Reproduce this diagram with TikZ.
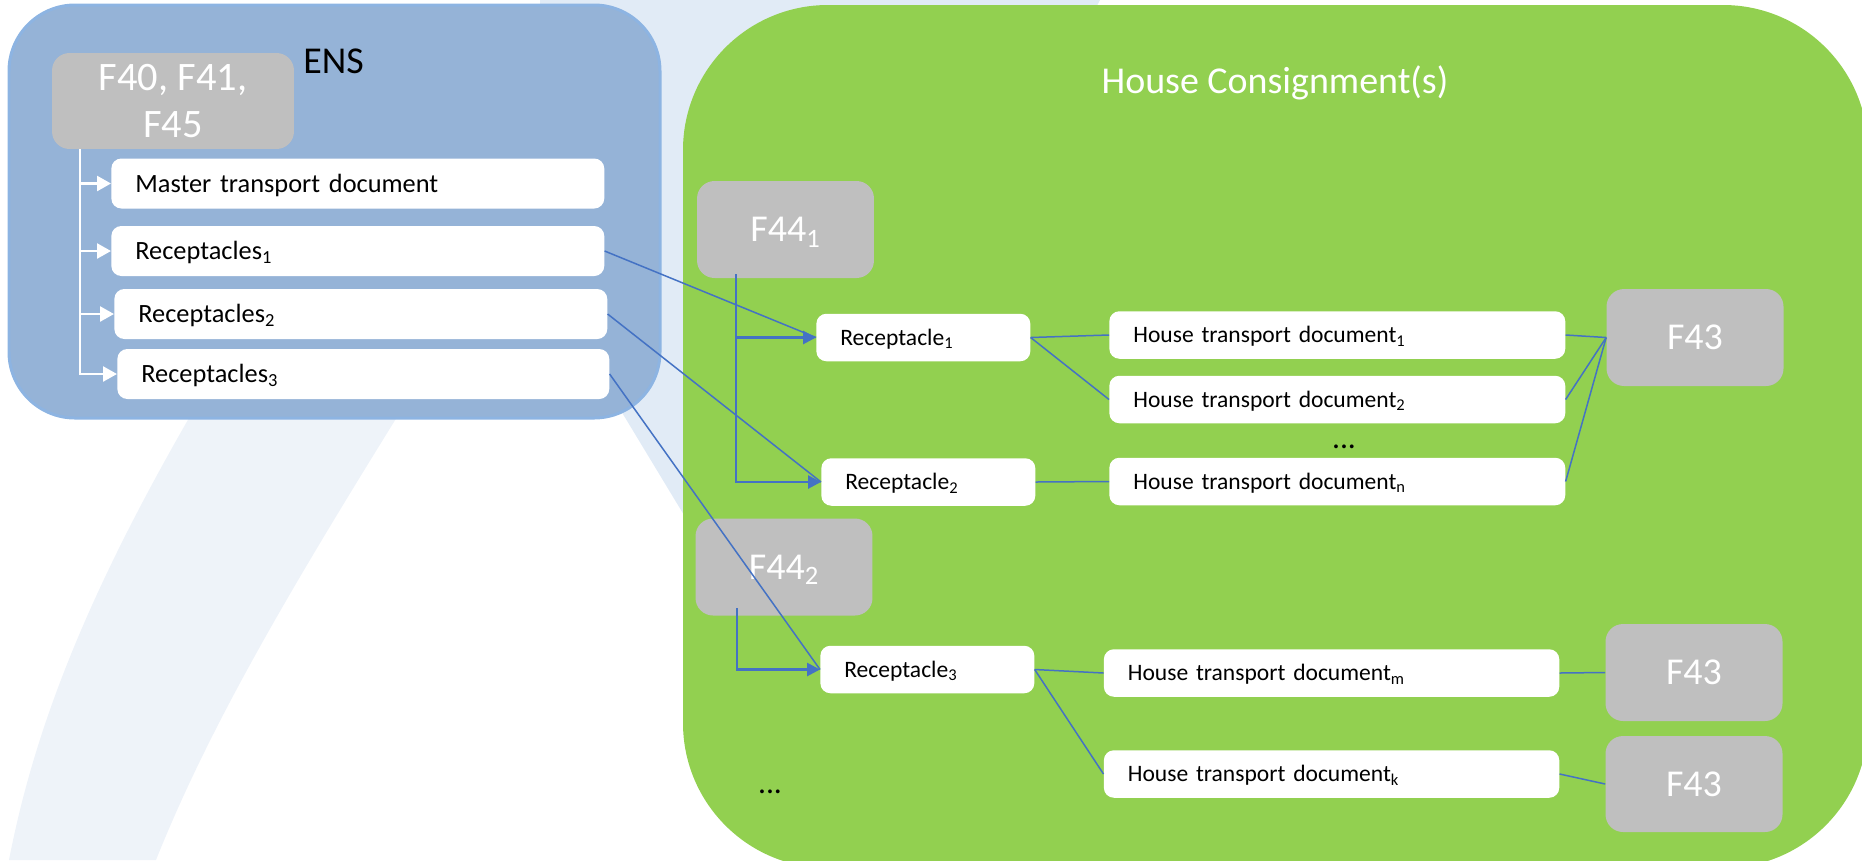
\documentclass[tikz,border=0pt]{standalone}
\usepackage{fontspec}
\setmainfont{Carlito}
\usetikzlibrary{arrows.meta}
\definecolor{ensblue}{HTML}{95B3D7}
\definecolor{ensedge}{HTML}{8DB4E2}
\definecolor{hcgreen}{HTML}{92D050}
\definecolor{formgray}{HTML}{BFBFBF}
\definecolor{linkblue}{HTML}{4472C4}
\definecolor{wmblue}{HTML}{E1EBF6}
\definecolor{wmpale}{HTML}{EEF3F9}
\newcommand{\formfont}{\fontsize{21.6}{26.7}\selectfont}
\newcommand{\bigformfont}{\fontsize{23}{27}\selectfont}
\newcommand{\ensfont}{\fontsize{15}{18}\selectfont}
\newcommand{\hcfont}{\fontsize{13.4}{16}\selectfont}
\newcommand{\dotsfont}{\fontsize{18}{20}\selectfont}
\tikzset{
	formbox/.style={fill=formgray, rounded corners=0.35cm, text=white, font=\formfont, minimum width=3.54cm, minimum height=1.94cm},
	formone/.style={formbox, text height=13.9pt, text depth=0pt},
	ensdoc/.style={fill=white, rounded corners=0.2cm, anchor=west, font=\ensfont, inner xsep=0.48cm, text width=#1, align=left, minimum height=1.0cm, text height=9.7pt, text depth=0pt},
	hcdoc/.style={fill=white, rounded corners=0.2cm, anchor=west, font=\hcfont, inner xsep=0.48cm, text width=#1, align=left, minimum height=0.95cm, text height=8.6pt, text depth=0pt},
	thinlink/.style={draw=linkblue, line width=0.03cm},
	fatlink/.style={draw=linkblue, line width=0.055cm, -{Triangle[length=0.26cm,width=0.26cm]}},
	enslink/.style={draw=white, line width=0.05cm, -{Triangle[length=0.28cm,width=0.3cm]}}
}

\begin{document}
\begin{tikzpicture}[x=0.02cm, y=-0.02cm]
			%%%%% START %%%%%
			\useasboundingbox (0,0) rectangle (1862,860);
			\clip (0,0) rectangle (1862,860);
			
			% watermark
			\fill[wmpale] (9,860) .. controls (40,700) and (110,540) .. (260,300) -- (470,300) .. controls (320,540) and (220,700) .. (156,860) -- cycle;
			\fill[wmblue] (540,0) -- (1100,0) -- (780,600) -- (690,525) -- (560,310) -- cycle;
			
			% ENS
			\draw[fill=ensblue, draw=ensedge, line width=0.06cm, rounded corners=1.32cm] (9,5) rectangle (660,418);
			\node[anchor=base west, inner sep=0, font=\formfont] (ens) at (303,73) {ENS};
			\node[formbox, font=\bigformfont, minimum width=4.84cm, minimum height=1.92cm, align=center] (f40) at (173,101) {F40, F41,\\F45};
			
			\node[ensdoc=8.9cm] (mtd) at (111,183.5) {Master transport document};
			\node[ensdoc=8.9cm] (rcps1) at (111,251) {Receptacles\textsubscript{1}};
			\node[ensdoc=8.9cm] (rcps2) at (114,314) {Receptacles\textsubscript{2}};
			\node[ensdoc=8.88cm] (rcps3) at (117,374) {Receptacles\textsubscript{3}};
			
			\coordinate (f40out) at (80,149);
			\foreach \b in {mtd,rcps1,rcps2,rcps3}
				\draw[enslink] (f40out) |- (\b.west);
			
			% House consignments
			\fill[hcgreen, rounded corners=2.9cm] (683,5) rectangle (1868,868);
			\node[anchor=base, inner sep=0, font=\formfont, text=white] (hc) at (1275,93) {House Consignment(s)};
			
			\node[formone] (f44a) at (785.5,229.5) {F44\textsubscript{1}};
			\node[formone] (f44b) at (784,567) {F44\textsubscript{2}};
			
			\node[hcdoc=3.32cm] (rcpa) at (816,337.5) {Receptacle\textsubscript{1}};
			\node[hcdoc=3.32cm] (rcpb) at (821,482) {Receptacle\textsubscript{2}};
			\node[hcdoc=3.32cm] (rcpc) at (820,669.5) {Receptacle\textsubscript{3}};
			
			\node[hcdoc=8.16cm] (htd1) at (1109,335) {House transport document\textsubscript{1}};
			\node[hcdoc=8.16cm] (htd2) at (1109,399.5) {House transport document\textsubscript{2}};
			\node[hcdoc=8.16cm] (htdn) at (1109,481.5) {House transport document\textsubscript{n}};
			\node[hcdoc=8.15cm] (htdm) at (1103.5,673) {House transport document\textsubscript{m}};
			\node[hcdoc=8.15cm] (htdk) at (1103.5,774) {House transport document\textsubscript{k}};
			
			\node[formone] (f43a) at (1695,337.5) {F43};
			\node[formone] (f43b) at (1694,672.5) {F43};
			\node[formone, minimum height=1.92cm] (f43c) at (1694,784) {F43};
			
			\node[font=\dotsfont] (moreht) at (1344,447) {...};
			\node[font=\dotsfont] (moref44) at (770,792) {...};
			
			% links
			\coordinate (f44aout) at (736,274);
			\coordinate (f44bout) at (737,608);
			\draw[fatlink] (f44aout) |- (rcpa.west);
			\draw[fatlink] (f44aout) |- (rcpb.west);
			\draw[fatlink] (f44bout) |- (rcpc.west);
			
			\draw[thinlink] (rcps1.east) -- (rcpa.west);
			\draw[thinlink] (rcps2.east) -- (rcpb.west);
			\draw[thinlink] (rcps3.east) -- (rcpc.west);
			
			\draw[thinlink] (rcpa.east) -- (htd1.west);
			\draw[thinlink] (rcpa.east) -- (htd2.west);
			\draw[thinlink] (rcpb.east) -- (htdn.west);
			\draw[thinlink] (rcpc.east) -- (htdm.west);
			\draw[thinlink] (rcpc.east) -- (htdk.west);
			
			\foreach \h in {htd1,htd2,htdn}
				\draw[thinlink] (\h.east) -- (f43a.west);
			\draw[thinlink] (htdm.east) -- (f43b.west);
			\draw[thinlink] (htdk.east) -- (f43c.west);
			
			%%%%% END %%%%%
\end{tikzpicture}
\end{document}
